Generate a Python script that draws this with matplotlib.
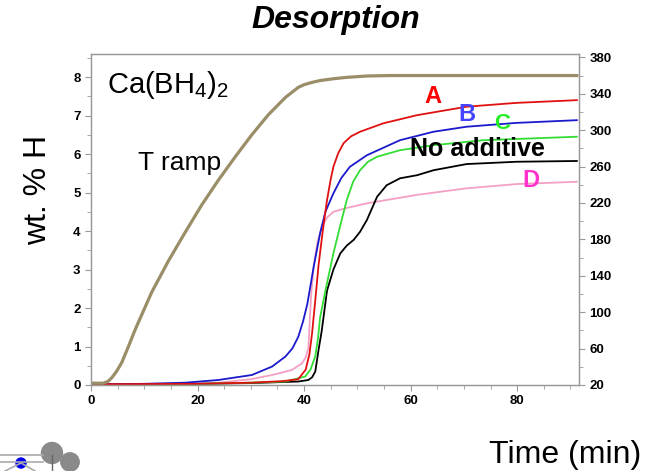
import matplotlib
matplotlib.use('Agg')
import matplotlib.pyplot as plt
from matplotlib.patches import Circle
from matplotlib.lines import Line2D
from matplotlib.ticker import MultipleLocator

plt.rcParams['font.family'] = ['Liberation Sans', 'DejaVu Sans']
plt.rcParams['mathtext.fontset'] = 'custom'
plt.rcParams['mathtext.rm'] = 'Liberation Sans'
plt.rcParams['mathtext.it'] = 'Liberation Sans:italic'

# temperature ramp (right axis, deg C)
t_ramp = [0, 2.3, 3.2, 3.9, 4.8, 5.8, 7, 8.3, 11.4, 14.5, 17.7, 20.8, 23.9, 27.1, 30.2, 33.3,
          36.5, 38.9, 40, 41.5, 43, 45.5, 48, 51.8, 56, 70, 80, 91.2]
T_ramp = [22, 22, 24, 28, 35, 45, 62, 81, 122, 156, 188, 218, 245, 271, 295, 317,
          336, 347, 350, 352.5, 354.5, 356.5, 358, 359.5, 360, 360, 360, 360]

# A (red)
t_a = [0, 20, 30, 36, 38.9, 40.3, 41, 41.5, 42.1, 42.7, 43.5, 44.3, 45, 45.5, 46.4, 47.4, 48.8, 50.5,
       54.9, 61.2, 70.5, 79.9, 91.2]
w_a = [0.02, 0.03, 0.06, 0.1, 0.15, 0.4, 0.8, 1.35, 2.2, 3.1, 4.0, 4.8, 5.35, 5.67, 6.02, 6.28, 6.46, 6.58,
       6.8, 7.01, 7.23, 7.33, 7.4]

# B (blue)
t_b = [0, 10, 17.7, 23.9, 30.2, 34, 36.5, 37.8, 38.9, 39.8, 40.6, 41.8, 43, 44, 45.5, 47, 48.6, 51.8,
       58, 64.3, 70.5, 79.9, 91.2]
w_b = [0.02, 0.03, 0.06, 0.13, 0.26, 0.48, 0.74, 0.95, 1.25, 1.65, 2.1, 3.07, 3.94, 4.5, 4.98, 5.38, 5.67, 5.97,
       6.36, 6.58, 6.71, 6.81, 6.88]

# C (green)
t_c = [0, 20, 30, 36.5, 40.2, 41.2, 42.1, 42.6, 43, 44, 45.5, 46.8, 48, 49.2, 50.5, 52, 53.7, 58, 64.3,
       73.7, 91.2]
w_c = [0.02, 0.03, 0.06, 0.09, 0.22, 0.4, 0.75, 1.2, 1.75, 2.45, 3.42, 4.15, 4.8, 5.28, 5.58, 5.8, 5.93, 6.1, 6.23,
       6.36, 6.45]

# No additive (black)
t_n = [0, 20, 30, 38.9, 40.8, 41.5, 42.1, 42.7, 43.3, 44.3, 45.5, 46.8, 48, 49.3, 50.5, 51.8, 53.7, 55.5,
       58, 61.2, 64.3, 70.5, 79.9, 91.2]
w_n = [0.02, 0.03, 0.05, 0.09, 0.13, 0.2, 0.35, 0.9, 1.4, 2.45, 3.0, 3.42, 3.62, 3.77, 3.98, 4.29, 4.89, 5.19,
       5.37, 5.45, 5.58, 5.74, 5.8, 5.82]

# D (pink)
t_d = [0, 20, 23.9, 30, 34, 37.7, 39.6, 40.3, 40.8, 41.3, 41.8, 42.5, 43.3, 44.3, 45.5, 48, 51.8, 61.2,
       70.5, 79.9, 91.2]
w_d = [0.02, 0.04, 0.06, 0.15, 0.26, 0.39, 0.56, 0.72, 0.95, 2.3, 3.1, 3.7, 4.1, 4.35, 4.5, 4.6, 4.72, 4.94,
       5.11, 5.22, 5.28]

fig = plt.figure(figsize=(6.52, 4.71), dpi=100)
ax = fig.add_axes([0.1396, 0.1826, 0.7484, 0.7028])
ax2 = ax.twinx()

ax.plot(t_d, w_d, color='#f4a0c4', lw=1.3)
ax.plot(t_n, w_n, color='black', lw=1.3)
ax.plot(t_c, w_c, color='#33dd33', lw=1.3)
ax.plot(t_b, w_b, color='#1a1acc', lw=1.3)
ax.plot(t_a, w_a, color='#e01010', lw=1.3)
ax2.plot(t_ramp, T_ramp, color='#9a8e68', lw=2.3)

ax.set_xlim(0, 91.6)
ax.set_ylim(0, 8.6)
ax2.set_ylim(20, 383.7)

ax.xaxis.set_major_locator(MultipleLocator(20))
ax.xaxis.set_minor_locator(MultipleLocator(5))
ax.yaxis.set_major_locator(MultipleLocator(1))
ax.yaxis.set_minor_locator(MultipleLocator(0.5))
ax2.set_yticks(range(20, 381, 40))
ax2.yaxis.set_minor_locator(MultipleLocator(20))

for a in (ax, ax2):
    for s in a.spines.values():
        s.set_color('#999999')
        s.set_linewidth(0.9)
    a.tick_params(which='both', color='#999999', direction='out')
    a.tick_params(which='major', length=4, labelsize=9.5)
    a.tick_params(which='minor', length=3)
    for lab in a.get_xticklabels() + a.get_yticklabels():
        lab.set_fontweight('bold')

ax.text(3.0, 7.8, r'Ca(BH$_4$)$_2$', fontsize=21, va='center', ha='left')
ax.text(8.9, 5.77, 'T ramp', fontsize=19, va='center', ha='left')
ax.text(59.9, 6.12, 'No additive', fontsize=18, fontweight='bold', va='center', ha='left')
ax.text(64.2, 7.5, 'A', fontsize=17, fontweight='bold', color='#ff0000', va='center', ha='center')
ax.text(70.6, 7.03, 'B', fontsize=17, fontweight='bold', color='#4444ff', va='center', ha='center')
ax.text(77.2, 6.8, 'C', fontsize=16, fontweight='bold', color='#22ee22', va='center', ha='center')
ax.text(82.6, 5.32, 'D', fontsize=17, fontweight='bold', color='#ff33cc', va='center', ha='center')

fig.text(336 / 652, 1 - 20 / 471, 'Desorption', fontsize=23, fontweight='bold', fontstyle='italic',
         ha='center', va='center')
fig.text(38 / 652, 1 - 190 / 471, 'wt. % H', fontsize=23, rotation=90, ha='center', va='center')
fig.text(565 / 652, 1 - 455 / 471, 'Time (min)', fontsize=23, ha='center', va='center')

# bits of the logo in the lower left corner (pixel -> inch)
def px(x, y):
    return (x / 100, (471 - y) / 100)

tr = fig.dpi_scale_trans
for y0 in (455, 462):
    fig.add_artist(Line2D([0, 0.43], [(471 - y0) / 100] * 2, color='#aaaaaa', lw=1.2, transform=tr))
fig.add_artist(Line2D([0.05, 0.21, 0.35], [0.0, 0.08, 0.0], color='#aaaaaa', lw=1.2, transform=tr))
fig.add_artist(Circle(px(52, 453), 0.105, color='#8a8a8a', transform=tr))
fig.add_artist(Circle(px(70, 462), 0.092, color='#8a8a8a', transform=tr))
fig.add_artist(Line2D([0.52, 0.52], [0.0, 0.16], color='#666666', lw=1, transform=tr))
fig.add_artist(Circle(px(21, 463), 0.05, color='#0000ee', transform=tr))

fig.savefig('out.png', dpi=100)
